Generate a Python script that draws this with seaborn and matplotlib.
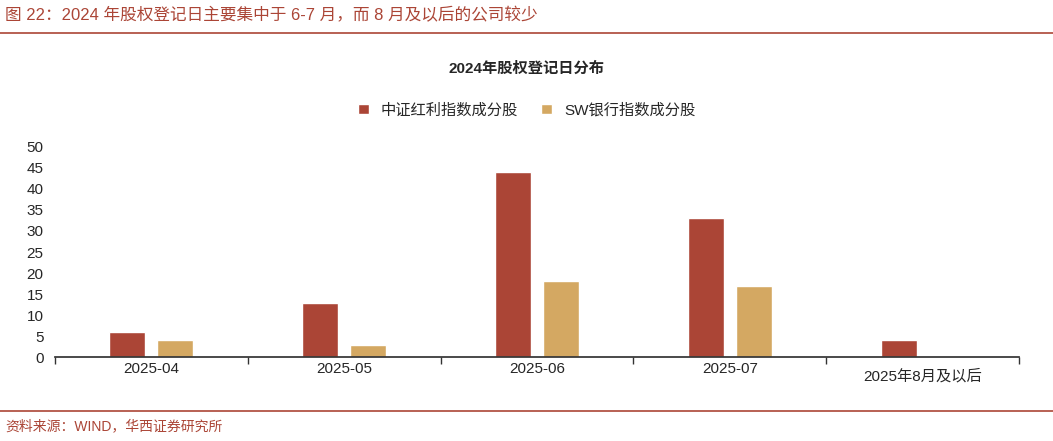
import matplotlib
matplotlib.use("Agg")
import matplotlib.pyplot as plt
import seaborn as sns
import pandas as pd

categories = ["2025-04", "2025-05", "2025-06", "2025-07", "2025年8月及以后"]
series_names = ["中证红利指数成分股", "SW银行指数成分股"]
dividend = [6, 13, 44, 33, 4]
bank = [4, 3, 18, 17, 0]
colors = ["#AB4536", "#D4A862"]

sns.set_theme(style="white")
plt.rcParams['font.family'] = ['Liberation Sans', 'Noto Sans CJK SC', 'DejaVu Sans']

df = pd.DataFrame({
    "cat": categories * 2,
    "series": [series_names[0]] * 5 + [series_names[1]] * 5,
    "val": dividend + bank,
})

fig = plt.figure(figsize=(10.53, 4.41), dpi=100)
ax = fig.add_axes([0.052, 0.19, 0.916, 0.477])
sns.barplot(data=df, x="cat", y="val", hue="series", palette=colors, saturation=1,
            width=0.5, gap=0.25, ax=ax, legend=True)
ax.set_ylim(0, 50)
ax.set_yticks(range(0, 51, 5))
ax.set_xlabel("")
ax.set_ylabel("")
ax.set_xlim(-0.5, 4.5)
for s in ["top", "right", "left"]:
    ax.spines[s].set_visible(False)
ax.spines["bottom"].set_color("#333333")
ax.tick_params(axis="y", labelsize=11, pad=2)
ax.tick_params(axis="x", labelsize=11)
ax.set_xticks([x + 0.5 for x in range(-1, 5)], minor=True)
ax.tick_params(axis="x", which="minor", length=5, direction="out", bottom=True, color="#333333")
ax.tick_params(axis="x", which="major", length=0)
ax.get_xticklabels()[-1].set_y(-0.03)

ax.legend(loc="center", bbox_to_anchor=(0.5, 0.75), bbox_transform=fig.transFigure,
          ncol=2, frameon=False, fontsize=11, handlelength=0.7, handleheight=0.7,
          columnspacing=1.5)
fig.text(0.5, 0.845, "2024年股权登记日分布", ha="center", va="center", fontsize=11, fontweight="bold")

fig.text(0.005, 0.965, "图 22：2024 年股权登记日主要集中于 6-7 月，而 8 月及以后的公司较少",
         ha="left", va="center", fontsize=12, color="#AB4536")
fig.add_artist(plt.Line2D([0, 1], [0.925, 0.925], color="#AB4536", lw=1.2))
fig.add_artist(plt.Line2D([0, 1], [0.068, 0.068], color="#AB4536", lw=1.2))
fig.text(0.005, 0.033, "资料来源：WIND，华西证券研究所", ha="left", va="center",
         fontsize=10, color="#AB4536")

fig.savefig("out.png", dpi=100)
